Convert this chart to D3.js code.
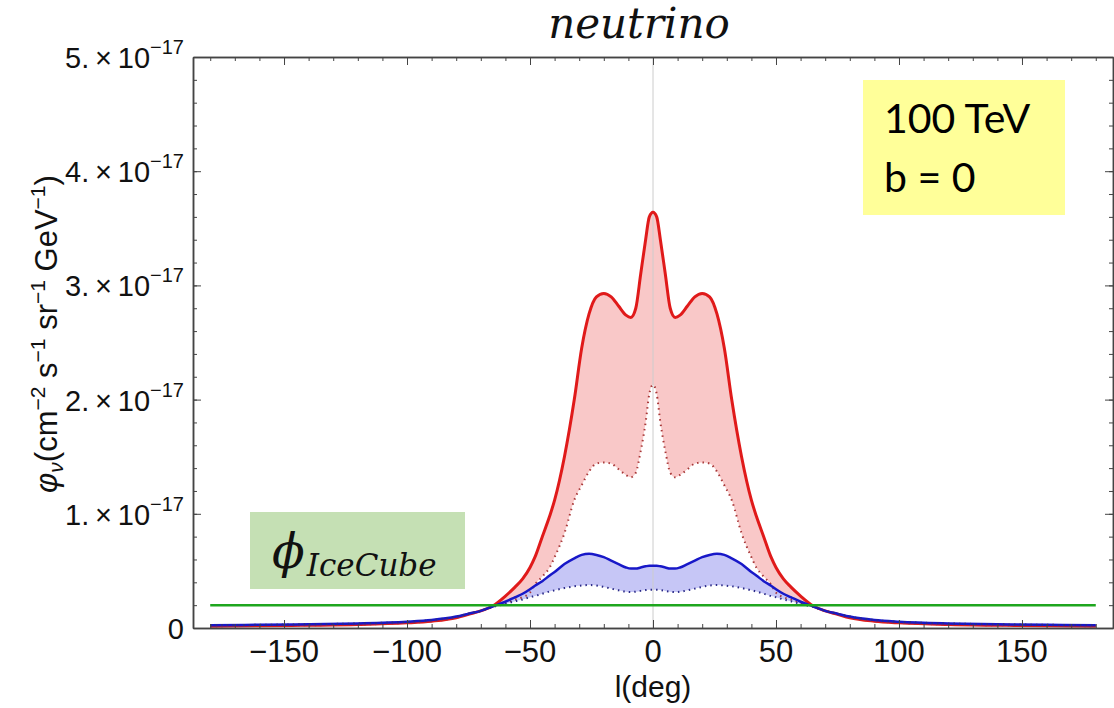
<!doctype html>
<html lang="en">
  <head>
    <meta charset="utf-8"/>
    <title>neutrino flux</title>
    <script src="https://cdn.jsdelivr.net/npm/d3@7"></script>
    <style>
      body { margin: 0; background: #fff; }
      svg { display: block; }
      .tick text { display: none; }
    </style>
  </head>
  <body>
    <div id="chart"></div>
    <script>
      // longitude samples (deg) and flux values in units of 1e-17 cm^-2 s^-1 sr^-1 GeV^-1
      var lon = [-180, -160, -140, -120, -100, -90, -80, -75, -70, -65, -60, -56, -53, -50, -48, -45, -42, -40, -36, -32, -29, -26, -23, -20, -17, -14, -11, -9, -7, -5, -3, -1.5, 0,
                 1.5, 3, 5, 7, 9, 11, 14, 17, 20, 23, 26, 29, 32, 36, 40, 42, 45, 48, 50, 53, 56, 60, 65, 70, 75, 80, 90, 100, 120, 140, 160, 180];

      var redHigh = [0.015, 0.02, 0.024, 0.03, 0.045, 0.06, 0.09, 0.12, 0.15, 0.195, 0.28, 0.36, 0.43, 0.53, 0.62, 0.8, 0.98, 1.12, 1.5, 2.0, 2.45, 2.75, 2.9, 2.93, 2.9, 2.82, 2.74, 2.72, 2.8, 3.1, 3.4, 3.6, 3.64,
                     3.6, 3.4, 3.1, 2.8, 2.72, 2.74, 2.82, 2.9, 2.93, 2.9, 2.75, 2.45, 2.0, 1.5, 1.12, 0.98, 0.8, 0.62, 0.53, 0.43, 0.36, 0.28, 0.195, 0.15, 0.12, 0.09, 0.06, 0.045, 0.03, 0.024, 0.02, 0.015];

      var redLow = [0.015, 0.02, 0.024, 0.03, 0.045, 0.06, 0.09, 0.12, 0.15, 0.19, 0.22, 0.25, 0.27, 0.31, 0.38, 0.45, 0.53, 0.62, 0.83, 1.12, 1.25, 1.37, 1.44, 1.45, 1.44, 1.39, 1.34, 1.32, 1.36, 1.55, 1.8, 2.05, 2.13,
                    2.05, 1.8, 1.55, 1.36, 1.32, 1.34, 1.39, 1.44, 1.45, 1.44, 1.37, 1.25, 1.12, 0.83, 0.62, 0.53, 0.45, 0.38, 0.31, 0.27, 0.25, 0.22, 0.19, 0.15, 0.12, 0.09, 0.06, 0.045, 0.03, 0.024, 0.02, 0.015];

      var blueHigh = [0.025, 0.028, 0.033, 0.04, 0.055, 0.07, 0.1, 0.125, 0.15, 0.19, 0.23, 0.27, 0.3, 0.34, 0.37, 0.41, 0.46, 0.49, 0.56, 0.61, 0.64, 0.65, 0.64, 0.62, 0.59, 0.56, 0.53, 0.52, 0.52, 0.53, 0.54, 0.545, 0.545,
                      0.545, 0.54, 0.53, 0.52, 0.52, 0.53, 0.56, 0.59, 0.62, 0.64, 0.65, 0.64, 0.61, 0.56, 0.49, 0.46, 0.41, 0.37, 0.34, 0.3, 0.27, 0.23, 0.19, 0.15, 0.125, 0.1, 0.07, 0.055, 0.04, 0.033, 0.028, 0.025];

      var blueLow = [0.025, 0.028, 0.033, 0.04, 0.055, 0.07, 0.1, 0.125, 0.15, 0.185, 0.21, 0.235, 0.25, 0.27, 0.28, 0.3, 0.32, 0.33, 0.35, 0.365, 0.372, 0.376, 0.372, 0.36, 0.345, 0.33, 0.318, 0.315, 0.318, 0.325, 0.332, 0.335, 0.335,
                     0.335, 0.332, 0.325, 0.318, 0.315, 0.318, 0.33, 0.345, 0.36, 0.372, 0.376, 0.372, 0.365, 0.35, 0.33, 0.32, 0.3, 0.28, 0.27, 0.25, 0.235, 0.21, 0.185, 0.15, 0.125, 0.1, 0.07, 0.055, 0.04, 0.033, 0.028, 0.025];

      var iceCube = 0.2;
      var xTicks = [-150, -100, -50, 0, 50, 100, 150];
      var yTicks = [0, 1, 2, 3, 4, 5];
      var yTickLabels = ["0", "1.", "2.", "3.", "4.", "5."];

      var w = 1114, h = 708;
      var mLeft = 193, mRight = 1113, mTop = 57, mBottom = 628;

      var svg = d3.select("#chart").append("svg")
        .attr("width", w).attr("height", h);

      var xScale = d3.scaleLinear().domain([-187, 187]).range([mLeft, mRight]);
      var yScale = d3.scaleLinear().domain([0, 5]).range([mBottom, mTop]);

      var rows = lon.map(function(l, i) {
        return { l: l, rh: redHigh[i], rl: redLow[i], bh: blueHigh[i], bl: blueLow[i] };
      });

      var curve = d3.curveMonotoneX;

      //fills
      var areaRed = d3.area().curve(curve)
        .x(function(d) { return xScale(d.l); })
        .y0(function(d) { return yScale(d.rl); })
        .y1(function(d) { return yScale(d.rh); });
      var areaBlue = d3.area().curve(curve)
        .x(function(d) { return xScale(d.l); })
        .y0(function(d) { return yScale(d.bl); })
        .y1(function(d) { return yScale(d.bh); });

      svg.append("path").datum(rows).attr("d", areaRed).attr("fill", "#f9c8c8");
      svg.append("path").datum(rows).attr("d", areaBlue).attr("fill", "#c6c6f6");

      // grid line at l = 0
      svg.append("line")
        .attr("x1", xScale(0)).attr("x2", xScale(0))
        .attr("y1", mTop).attr("y2", mBottom)
        .attr("stroke", "#cccccc").attr("stroke-width", 1);

      function line(key) {
        return d3.line().curve(curve)
          .x(function(d) { return xScale(d.l); })
          .y(function(d) { return yScale(d[key]); });
      }

      svg.append("path").datum(rows).attr("d", line("rh"))
        .attr("fill", "none").attr("stroke", "#e01a1a").attr("stroke-width", 3);
      svg.append("path").datum(rows).attr("d", line("rl"))
        .attr("fill", "none").attr("stroke", "#a83838").attr("stroke-width", 2)
        .attr("stroke-dasharray", "1.5,4");
      svg.append("path").datum(rows).attr("d", line("bh"))
        .attr("fill", "none").attr("stroke", "#1818c8").attr("stroke-width", 2.5);
      svg.append("path").datum(rows).attr("d", line("bl"))
        .attr("fill", "none").attr("stroke", "#2a2a88").attr("stroke-width", 2)
        .attr("stroke-dasharray", "1.5,4");

      // IceCube level
      svg.append("line")
        .attr("x1", xScale(-180)).attr("x2", xScale(180))
        .attr("y1", yScale(iceCube)).attr("y2", yScale(iceCube))
        .attr("stroke", "#1ea61e").attr("stroke-width", 2.5);

      //frame axes, ticks inward
      var minorX = d3.range(-180, 181, 10);
      var minorY = d3.range(0, 5.01, 0.2);
      var frame = "#444";

      function styleAxis(g) {
        g.select(".domain").attr("stroke", frame).attr("stroke-width", 1.5);
        g.selectAll(".tick line").attr("stroke", frame);
      }

      svg.append("g").attr("transform", "translate(0," + mBottom + ")")
        .call(d3.axisBottom(xScale).tickValues(minorX).tickSize(-4).tickSizeOuter(0)).call(styleAxis);
      svg.append("g").attr("transform", "translate(0," + mBottom + ")")
        .call(d3.axisBottom(xScale).tickValues(xTicks).tickSize(-8).tickSizeOuter(0)).call(styleAxis);
      svg.append("g").attr("transform", "translate(0," + mTop + ")")
        .call(d3.axisTop(xScale).tickValues(minorX).tickSize(-4).tickSizeOuter(0)).call(styleAxis);
      svg.append("g").attr("transform", "translate(0," + mTop + ")")
        .call(d3.axisTop(xScale).tickValues(xTicks).tickSize(-8).tickSizeOuter(0)).call(styleAxis);
      svg.append("g").attr("transform", "translate(" + mLeft + ",0)")
        .call(d3.axisLeft(yScale).tickValues(minorY).tickSize(-4).tickSizeOuter(0)).call(styleAxis);
      svg.append("g").attr("transform", "translate(" + mLeft + ",0)")
        .call(d3.axisLeft(yScale).tickValues(yTicks).tickSize(-8).tickSizeOuter(0)).call(styleAxis);
      svg.append("g").attr("transform", "translate(" + mRight + ",0)")
        .call(d3.axisRight(yScale).tickValues(minorY).tickSize(-4).tickSizeOuter(0)).call(styleAxis);
      svg.append("g").attr("transform", "translate(" + mRight + ",0)")
        .call(d3.axisRight(yScale).tickValues(yTicks).tickSize(-8).tickSizeOuter(0)).call(styleAxis);

      //tick labels
      var sans = "'Liberation Sans', Arial, sans-serif";
      svg.selectAll("text.xlab").data(xTicks).enter().append("text")
        .attr("class", "xlab")
        .attr("x", function(d) { return xScale(d); })
        .attr("y", mBottom + 34)
        .attr("text-anchor", "middle")
        .attr("font-family", sans).attr("font-size", 31).attr("fill", "#111")
        .text(function(d) { return d < 0 ? "\u2212" + Math.abs(d) : d; });

      var ylab = svg.selectAll("text.ylab").data(yTicks).enter().append("text")
        .attr("class", "ylab")
        .attr("x", 184)
        .attr("y", function(d) { return yScale(d) + 11; })
        .attr("text-anchor", "end")
        .attr("font-family", sans).attr("font-size", 29).attr("fill", "#111");
      ylab.each(function(d, i) {
        var t = d3.select(this);
        if (d === 0) { t.text("0"); return; }
        t.append("tspan").text(yTickLabels[i] + "\u2009\u00d7\u200910");
        t.append("tspan").attr("dy", -14).attr("font-size", 20).text("\u221217");
      });

      // axis titles
      svg.append("text")
        .attr("x", xScale(0)).attr("y", 697)
        .attr("text-anchor", "middle")
        .attr("font-family", sans).attr("font-size", 30).attr("fill", "#111")
        .text("l(deg)");

      var yt = svg.append("text")
        .attr("transform", "translate(57,334) rotate(-90)")
        .attr("text-anchor", "middle")
        .attr("font-family", sans).attr("font-size", 31).attr("fill", "#111");
      yt.append("tspan").attr("font-style", "italic").text("\u03c6");
      yt.append("tspan").attr("font-style", "italic").attr("font-size", 21).attr("dy", 6).text("\u03bd");
      yt.append("tspan").attr("dy", -6).text("(cm");
      yt.append("tspan").attr("font-size", 21).attr("dy", -12).text("\u22122");
      yt.append("tspan").attr("dy", 12).text(" s");
      yt.append("tspan").attr("font-size", 21).attr("dy", -12).text("\u22121");
      yt.append("tspan").attr("dy", 12).text(" sr");
      yt.append("tspan").attr("font-size", 21).attr("dy", -12).text("\u22121");
      yt.append("tspan").attr("dy", 12).text(" GeV");
      yt.append("tspan").attr("font-size", 21).attr("dy", -12).text("\u22121");
      yt.append("tspan").attr("dy", 12).text(")");

      // title
      svg.append("text")
        .attr("x", 639).attr("y", 38)
        .attr("text-anchor", "middle")
        .attr("font-family", "'DejaVu Serif', serif").attr("font-style", "italic")
        .attr("font-size", 42).attr("fill", "#111")
        .text("neutrino");

      // annotation boxes
      svg.append("rect").attr("x", 863).attr("y", 80).attr("width", 202).attr("height", 135)
        .attr("fill", "#ffff99");
      svg.append("text").attr("x", 884).attr("y", 133)
        .attr("font-family", "Lato, sans-serif").attr("font-size", 41).attr("fill", "#000")
        .text("100 TeV");
      svg.append("text").attr("x", 884).attr("y", 192)
        .attr("font-family", "Lato, sans-serif").attr("font-size", 41).attr("fill", "#000")
        .text("b = 0");

      svg.append("rect").attr("x", 250).attr("y", 512).attr("width", 215).attr("height", 77)
        .attr("fill", "#c5e0b4");
      var ice = svg.append("text").attr("x", 272).attr("y", 568)
        .attr("font-family", "'DejaVu Serif', serif").attr("fill", "#111");
      ice.append("tspan").attr("font-size", 48).attr("font-style", "italic").text("\u03d5");
      ice.append("tspan").attr("font-size", 31).attr("font-style", "italic").attr("dy", 8).attr("dx", 2).text("IceCube");
    </script>
  </body>
</html>
